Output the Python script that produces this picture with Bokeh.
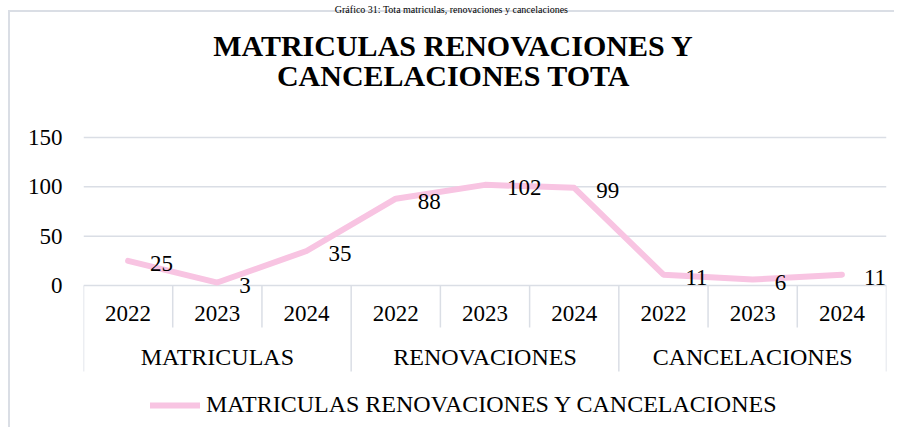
from bokeh.plotting import figure
from bokeh.models import (FactorRange, ColumnDataSource, FixedTicker, Label,
                          Legend, LegendItem)
from bokeh.core.properties import value
from bokeh.embed import file_html
from bokeh.resources import INLINE

# ---------------- data ----------------
caption = "Gráfico 31: Tota matriculas, renovaciones y cancelaciones"
title_lines = ["MATRICULAS RENOVACIONES Y", "CANCELACIONES TOTA"]
groups = ["MATRICULAS", "RENOVACIONES", "CANCELACIONES"]
years = ["2022", "2023", "2024"]
values = [25, 3, 35, 88, 102, 99, 11, 6, 11]
series_name = "MATRICULAS RENOVACIONES Y CANCELACIONES"
y_ticks = [0, 50, 100, 150]

# ---------------- styles / layout ----------------
FONT = "Liberation Serif, Times New Roman, DejaVu Serif, serif"
FS = "23px"
FS_BIG = "24px"
PINK = "#f8c4e2"
GRID = "#dadee5"
W, H = 894, 427
ML, MR = 83, 8
PX = 148 / 150.0           # pixels per data unit
ZERO_Y = 285               # canvas y of value 0
y_end = ZERO_Y / PX
y_start = -(H - ZERO_Y) / PX

factors = [(g, y) for g in groups for y in years]

# chart-area border (thin lines at left and top), drawn as the element background
border_css = {
    "background-image": f"linear-gradient({GRID}, {GRID}), linear-gradient({GRID}, {GRID})",
    "background-repeat": "no-repeat",
    "background-position": "8px 10px, 8px 10px",
    "background-size": "2px 100%, 100% 2px",
}

p = figure(width=W, height=H,
           x_range=FactorRange(*factors, factor_padding=0, group_padding=0,
                               subgroup_padding=0, range_padding=0),
           y_range=(y_start, y_end),
           output_backend="svg", toolbar_location=None, x_axis_location=None,
           min_border_left=ML, min_border_right=MR, min_border_top=0,
           min_border_bottom=0, outline_line_color=None,
           background_fill_color=None, border_fill_color=None,
           styles=border_css)

# y axis
p.yaxis.ticker = FixedTicker(ticks=y_ticks)
p.yaxis.axis_line_color = None
p.yaxis.major_tick_line_color = None
p.yaxis.minor_tick_line_color = None
p.yaxis.major_tick_out = 0
p.yaxis.major_tick_in = 0
p.yaxis.minor_tick_out = 0
p.yaxis.minor_tick_in = 0
p.yaxis.major_label_standoff = 21
p.yaxis.major_label_text_font = FONT
p.yaxis.major_label_text_font_size = FS
p.yaxis.major_label_text_color = "black"
p.ygrid.visible = False
p.xgrid.visible = False

# horizontal gridlines across the plot area
left_edge = (groups[0], years[0], -0.5)
right_edge = (groups[-1], years[-1], 0.5)
p.segment(x0=[left_edge] * len(y_ticks), y0=y_ticks,
          x1=[right_edge] * len(y_ticks), y1=y_ticks,
          line_color=GRID, line_width=1.5)

# category separators
sep_x, sep_y1 = [], []
for g in groups:
    for i, yr in enumerate(years):
        sep_x.append((g, yr, -0.5))
        sep_y1.append(-86 / PX if i == 0 else -42 / PX)
sep_x.append(right_edge)
sep_y1.append(-86 / PX)
p.segment(x0=sep_x, y0=[0] * len(sep_x), x1=sep_x, y1=sep_y1,
          line_color=GRID, line_width=1.5)

# category labels
p.text(x=factors, y=[0] * len(factors), text=[f[1] for f in factors],
       y_offset=28, text_align="center", text_baseline="middle",
       text_font=value(FONT), text_font_size=FS, text_color="black")
p.text(x=groups, y=[0] * len(groups), text=groups,
       y_offset=71, text_align="center", text_baseline="middle",
       text_font=value(FONT), text_font_size=FS_BIG, text_color="black")

# series line
src = ColumnDataSource(dict(x=factors, y=values, lbl=[str(v) for v in values]))
r = p.line("x", "y", source=src, line_color=PINK, line_width=6,
           line_cap="round", line_join="round")
p.text("x", "y", text="lbl", source=src, x_offset=22, y_offset=2.5,
       text_align="left", text_baseline="middle",
       text_font=value(FONT), text_font_size=FS, text_color="black")

# legend
legend = Legend(items=[LegendItem(label=series_name, renderers=[r])],
                location=(67, 9), orientation="horizontal",
                glyph_width=50, glyph_height=24, label_height=24,
                label_standoff=6, padding=0, margin=0, spacing=0,
                border_line_color=None, background_fill_alpha=0,
                label_text_font=FONT, label_text_font_size=FS_BIG,
                label_text_color="black")
p.add_layout(legend)

# caption and title
p.add_layout(Label(x=451, y=8.5, x_units="canvas", y_units="canvas", text=caption,
                   text_align="center", text_baseline="alphabetic",
                   text_font=FONT, text_font_size="10px", text_color="black"))
for i, t in enumerate(title_lines):
    p.add_layout(Label(x=453, y=45 + 29.5 * i, x_units="canvas", y_units="canvas",
                       text=t, text_align="center", text_baseline="middle",
                       text_font=FONT, text_font_style="bold",
                       text_font_size="30px", text_color="black"))

open("out.html", "w").write(file_html(p, INLINE))
